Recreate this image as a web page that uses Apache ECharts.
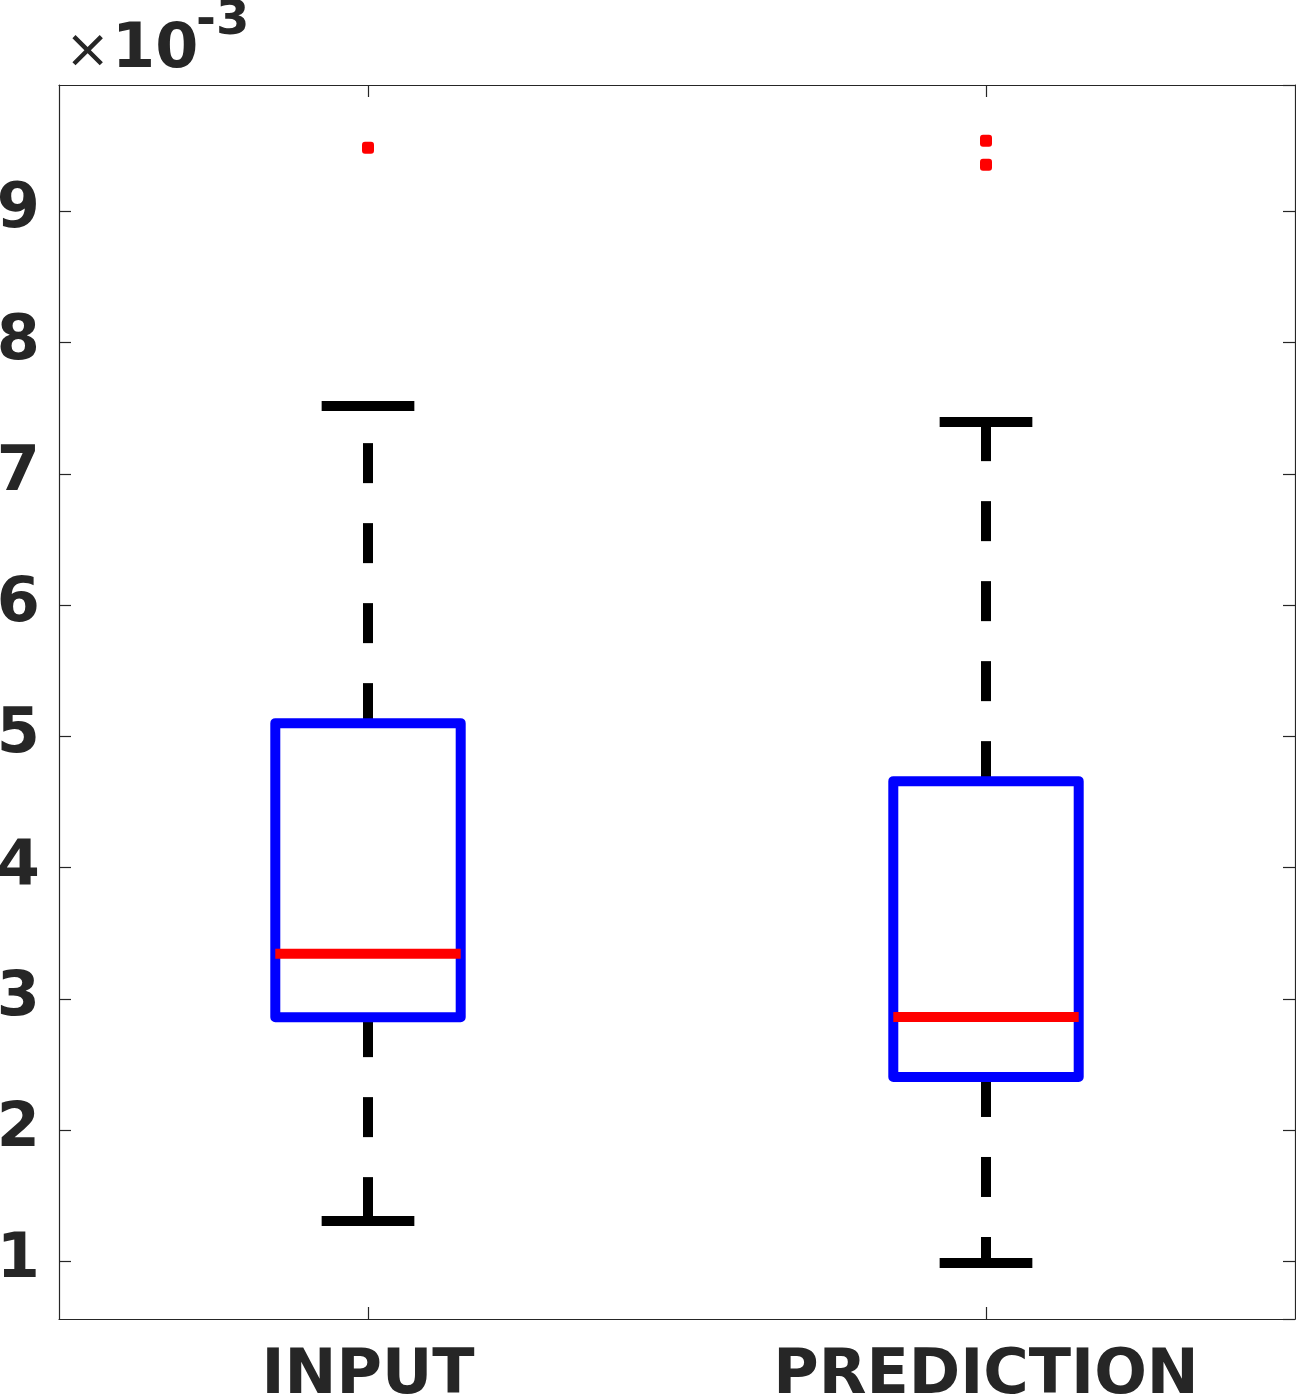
<!DOCTYPE html>
<html>
<head>
<meta charset="utf-8">
<script src="https://cdn.jsdelivr.net/npm/echarts@6/dist/echarts.min.js"></script>
<style>
  html, body { margin: 0; padding: 0; background: #fff; }
  #chart { width: 1296px; height: 1396px; }
</style>
</head>
<body>
<div id="chart"></div>
<script>
// values are in units of 10^-3 (see the axis exponent label)
const categories = ['INPUT', 'PREDICTION'];
const whiskerLow = [1.307, 0.987];
const q1 = [2.86, 2.404];
const medians = [3.343, 2.861];
const q3 = [5.100, 4.658];
const whiskerHigh = [7.517, 7.395];
const outliers = [[0, 9.483], [1, 9.537], [1, 9.354]];
const yTicks = [1, 2, 3, 4, 5, 6, 7, 8, 9];
const exponent = '-3';

const FONT = 'DejaVu Sans';
const AXIS_COLOR = '#262626';

const chart = echarts.init(document.getElementById('chart'));

const boxData = categories.map((c, i) => [i, whiskerLow[i], q1[i], medians[i], q3[i], whiskerHigh[i]]);

function renderBox(params, api) {
  const idx = api.value(0);
  const band = api.size([1, 0])[0];
  const boxW = band * 0.3;
  const capW = band * 0.15;
  const pLow = api.coord([idx, api.value(1)]);
  const pQ1 = api.coord([idx, api.value(2)]);
  const pMed = api.coord([idx, api.value(3)]);
  const pQ3 = api.coord([idx, api.value(4)]);
  const pHigh = api.coord([idx, api.value(5)]);
  const cx = pLow[0];
  const black = { stroke: '#000', lineWidth: 10 };
  return {
    type: 'group',
    children: [
      { type: 'line', shape: { x1: cx, y1: pQ3[1], x2: cx, y2: pHigh[1] },
        style: Object.assign({ lineDash: [40, 40] }, black) },
      { type: 'line', shape: { x1: cx, y1: pQ1[1], x2: cx, y2: pLow[1] },
        style: Object.assign({ lineDash: [40, 40] }, black) },
      { type: 'line', shape: { x1: cx - capW / 2, y1: pHigh[1], x2: cx + capW / 2, y2: pHigh[1] }, style: black },
      { type: 'line', shape: { x1: cx - capW / 2, y1: pLow[1], x2: cx + capW / 2, y2: pLow[1] }, style: black },
      { type: 'rect', shape: { x: cx - boxW / 2, y: pQ3[1], width: boxW, height: pQ1[1] - pQ3[1] },
        style: { fill: 'none', stroke: '#0000ff', lineWidth: 10, lineJoin: 'round' } },
      { type: 'line', shape: { x1: cx - boxW / 2, y1: pMed[1], x2: cx + boxW / 2, y2: pMed[1] },
        style: { stroke: '#ff0000', lineWidth: 10 } }
    ]
  };
}

const lineStyle = { color: AXIS_COLOR, width: 1.2 };
const tickStyle = { show: true, inside: true, length: 12, lineStyle: lineStyle };

const yAxisBase = {
  type: 'value',
  min: 0.56,
  max: 9.962,
  minInterval: 1,
  maxInterval: 1,
  axisLine: { show: true, lineStyle: lineStyle },
  axisTick: tickStyle,
  splitLine: { show: false }
};

const option = {
  animation: false,
  backgroundColor: '#fff',
  grid: { left: 59, right: 1, top: 85, bottom: 77, containLabel: false, outerBoundsMode: 'none' },
  xAxis: [
    {
      type: 'category',
      data: categories,
      position: 'bottom',
      axisLine: { show: true, onZero: false, lineStyle: lineStyle },
      axisTick: Object.assign({ alignWithLabel: true }, tickStyle),
      axisLabel: { fontFamily: FONT, fontWeight: 'bold', fontSize: 62, color: AXIS_COLOR, margin: 27 },
      splitLine: { show: false }
    },
    {
      type: 'category',
      data: categories,
      position: 'top',
      axisLine: { show: true, onZero: false, lineStyle: lineStyle },
      axisTick: Object.assign({ alignWithLabel: true }, tickStyle),
      axisLabel: { show: false },
      splitLine: { show: false }
    }
  ],
  yAxis: [
    Object.assign({}, yAxisBase, {
      position: 'left',
      axisLabel: {
        fontFamily: FONT, fontWeight: 'bold', fontSize: 62, color: AXIS_COLOR, margin: 19,
        showMinLabel: false, showMaxLabel: false,
        formatter: v => yTicks.includes(Math.round(v * 1000) / 1000) ? String(Math.round(v)) : ''
      }
    }),
    Object.assign({}, yAxisBase, {
      position: 'right',
      axisLabel: { show: false }
    })
  ],
  graphic: [
    { type: 'text', left: 65, top: 26,
      style: { text: '\u00d7', fontFamily: FONT, fontSize: 54, fill: AXIS_COLOR } },
    { type: 'text', left: 112, top: 20,
      style: { text: '10', fontFamily: FONT, fontWeight: 'bold', fontSize: 62, fill: AXIS_COLOR } },
    { type: 'text', left: 196, top: -2,
      style: { text: exponent, fontFamily: FONT, fontWeight: 'bold', fontSize: 48, fill: AXIS_COLOR } }
  ],
  series: [
    {
      type: 'custom',
      xAxisIndex: 0,
      yAxisIndex: 0,
      renderItem: renderBox,
      encode: { x: 0, y: [1, 2, 3, 4, 5] },
      data: boxData,
      z: 2
    },
    {
      type: 'scatter',
      xAxisIndex: 0,
      yAxisIndex: 0,
      symbol: 'roundRect',
      symbolSize: 12,
      itemStyle: { color: '#ff0000', opacity: 1 },
      data: outliers,
      z: 3
    }
  ]
};

chart.setOption(option);
window.addEventListener('resize', () => chart.resize());
</script>
</body>
</html>
